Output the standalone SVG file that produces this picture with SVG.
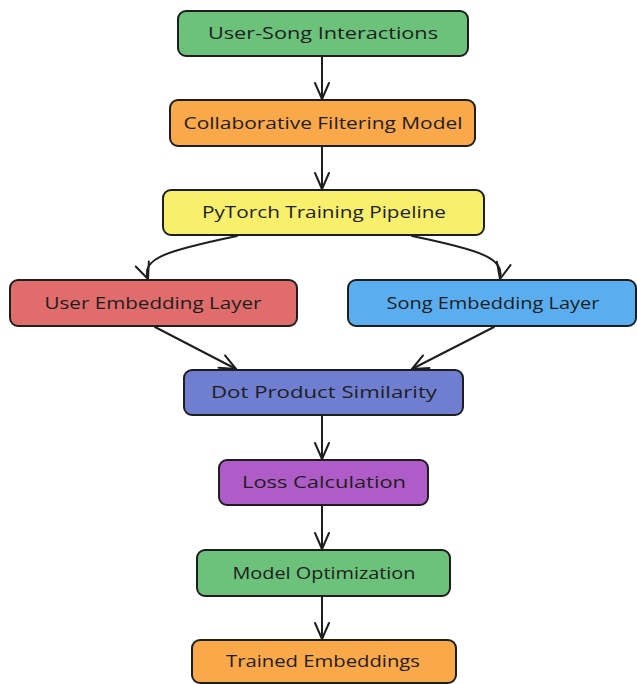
<svg xmlns="http://www.w3.org/2000/svg" width="637" height="684" viewBox="0 0 637 684">
<defs>
<style>
.n{stroke:#1e1e1e;stroke-width:2;}
.t{font-family:"Open Sans","Liberation Sans",sans-serif;font-size:17px;fill:#1e1e1e;text-anchor:middle;}
.c{fill:none;stroke:#1e1e1e;stroke-width:2;stroke-linecap:round;}
</style>
<marker id="ah" viewBox="0 0 20 20" refX="18" refY="10" markerWidth="20" markerHeight="20" markerUnits="userSpaceOnUse" orient="auto">
<path d="M2,3 L18,10 L2,17" fill="none" stroke="#1e1e1e" stroke-width="2" stroke-linecap="round" stroke-linejoin="round"/>
</marker>
</defs>
<rect width="637" height="684" fill="#ffffff"/>
<g id="connectors">
<path class="c" d="M322,56 L322,99" marker-end="url(#ah)"/>
<path class="c" d="M322,146 L322,189" marker-end="url(#ah)"/>
<path class="c" d="M237,236 C170,250 140,258 148,279" marker-end="url(#ah)"/>
<path class="c" d="M412,236 C480,250 505,258 500,279" marker-end="url(#ah)"/>
<path class="c" d="M155,327 L236,369" marker-end="url(#ah)"/>
<path class="c" d="M494,327 L412,369" marker-end="url(#ah)"/>
<path class="c" d="M322,416 L322,459" marker-end="url(#ah)"/>
<path class="c" d="M322,506 L322,549" marker-end="url(#ah)"/>
<path class="c" d="M322,596 L322,639" marker-end="url(#ah)"/>
</g>
<g id="n1"><rect class="n" x="178" y="11" width="290" height="45" rx="8" fill="#6cc27a"/><text class="t" x="323" y="39" textLength="230" lengthAdjust="spacingAndGlyphs">User-Song Interactions</text></g>
<g id="n2"><rect class="n" x="170" y="100" width="305" height="46" rx="8" fill="#f9a84a"/><text class="t" x="323" y="129" textLength="279" lengthAdjust="spacingAndGlyphs">Collaborative Filtering Model</text></g>
<g id="n3"><rect class="n" x="163" y="190" width="321" height="45" rx="8" fill="#f8ef6c"/><text class="t" x="324" y="218" textLength="244" lengthAdjust="spacingAndGlyphs">PyTorch Training Pipeline</text></g>
<g id="n4"><rect class="n" x="10" y="280" width="287" height="46" rx="8" fill="#e06c6c"/><text class="t" x="153" y="309" textLength="217" lengthAdjust="spacingAndGlyphs">User Embedding Layer</text></g>
<g id="n5"><rect class="n" x="348" y="280" width="288" height="46" rx="8" fill="#5aaef0"/><text class="t" x="493" y="309" textLength="213" lengthAdjust="spacingAndGlyphs">Song Embedding Layer</text></g>
<g id="n6"><rect class="n" x="184" y="370" width="279" height="45" rx="8" fill="#6f7ed0"/><text class="t" x="324" y="398" textLength="226" lengthAdjust="spacingAndGlyphs">Dot Product Similarity</text></g>
<g id="n7"><rect class="n" x="219" y="460" width="209" height="45" rx="8" fill="#b05cc8"/><text class="t" x="324" y="488" textLength="164" lengthAdjust="spacingAndGlyphs">Loss Calculation</text></g>
<g id="n8"><rect class="n" x="197" y="550" width="253" height="46" rx="8" fill="#6cc27a"/><text class="t" x="324" y="579" textLength="183" lengthAdjust="spacingAndGlyphs">Model Optimization</text></g>
<g id="n9"><rect class="n" x="192" y="640" width="264" height="43" rx="8" fill="#f9a84a"/><text class="t" x="323" y="667" textLength="194" lengthAdjust="spacingAndGlyphs">Trained Embeddings</text></g>
</svg>
